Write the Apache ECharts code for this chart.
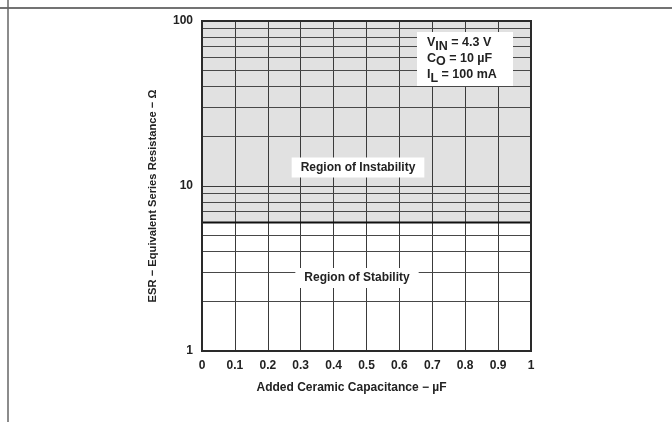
<!DOCTYPE html>
<html><head><meta charset="utf-8">
<script src="https://cdn.jsdelivr.net/npm/echarts@6/dist/echarts.min.js"></script>
<style>html,body{margin:0;padding:0;background:#fff}#c{width:672px;height:422px}</style>
</head><body><div id="c"></div>
<script>
// ---- data ----
const xTicks = [0, 0.1, 0.2, 0.3, 0.4, 0.5, 0.6, 0.7, 0.8, 0.9, 1];
const xTickLabels = ['0', '0.1', '0.2', '0.3', '0.4', '0.5', '0.6', '0.7', '0.8', '0.9', '1'];
const yTickValues = [1, 10, 100];
const yTickLabels = ['1', '10', '100'];
const boundaryCap = [0, 1];      // µF
const boundaryESR = [6, 6];      // Ω  (stability limit)
const esrTop = 100;
const minorGrid = [2, 3, 4, 5, 6, 7, 8, 9, 20, 30, 40, 50, 60, 70, 80, 90];
const conditionMain = ['V', 'C', 'I'];
const conditionSub = ['IN', 'O', 'L'];
const conditionRest = [' = 4.3 V', ' = 10 µF', ' = 100 mA'];
const xTitle = 'Added Ceramic Capacitance − µF';
const yTitle = 'ESR − Equivalent Series Resistance − Ω';
const regionLabels = ['Region of Instability', 'Region of Stability'];

// ---- chart ----
const FONT = '"Liberation Sans", Arial, Helvetica, sans-serif';
const chart = echarts.init(document.getElementById('c'), null, {renderer: 'canvas'});
const lbl = {fontFamily: FONT, fontWeight: 'bold', fontSize: 12, color: '#222'};
const grid = {color: '#3a3a3a', width: 1};

chart.setOption({
  animation: false,
  grid: {left: 202, top: 21, width: 329, height: 330, show: false},
  xAxis: {
    type: 'value', min: xTicks[0], max: xTicks[xTicks.length - 1], interval: 0.1, z: 3,
    axisLine: {show: false}, axisTick: {show: false},
    axisLabel: Object.assign({margin: 9, formatter: v => xTickLabels[Math.round(v * 10)]}, lbl),
    splitLine: {show: true, lineStyle: grid},
    name: xTitle, nameLocation: 'middle', nameGap: 31,
    nameTextStyle: Object.assign({padding: [0, 30, 0, 0]}, lbl)
  },
  yAxis: {
    type: 'log', logBase: 10, min: yTickValues[0], max: yTickValues[yTickValues.length - 1], z: 3,
    axisLine: {show: false}, axisTick: {show: false},
    axisLabel: Object.assign({margin: 9, formatter: v => yTickLabels[yTickValues.indexOf(Math.round(v))]}, lbl),
    splitLine: {show: true, lineStyle: grid},
    name: yTitle, nameLocation: 'middle', nameGap: 44,
    nameTextStyle: Object.assign({}, lbl, {fontSize: 11.2, padding: [0, 20, 0, 0]})
  },
  series: [
    {
      type: 'line', z: 6, symbol: 'none', silent: true,
      data: boundaryCap.map((c, i) => [c, boundaryESR[i]]),
      lineStyle: {color: '#111', width: 2},
      markArea: {silent: true, itemStyle: {color: '#e1e1e1'},
        data: [[{yAxis: boundaryESR[0]}, {yAxis: esrTop}]]}
    },
    {
      type: 'line', data: [], silent: true,
      markLine: {symbol: 'none', silent: true, label: {show: false}, z: 3,
        lineStyle: {color: '#484848', width: 1, type: 'solid'},
        data: minorGrid.map(v => ({yAxis: v}))}
    }
  ]
});

// frame & annotations
const p0 = chart.convertToPixel({gridIndex: 0}, [xTicks[0], esrTop]);
const p1 = chart.convertToPixel({gridIndex: 0}, [xTicks[xTicks.length - 1], yTickValues[0]]);
const ctx = document.createElement('canvas').getContext('2d');
const tf = 'bold 12.5px ' + FONT;
ctx.font = tf;
const legendEls = [];
const lx = 427, ly = [42.8, 58.3, 74.7];
for (let i = 0; i < 3; i++) {
  let x = lx;
  legendEls.push({type: 'text', z: 20, style: {text: conditionMain[i], x: x, y: ly[i], font: tf, fill: '#222', verticalAlign: 'middle'}});
  x += ctx.measureText(conditionMain[i]).width;
  legendEls.push({type: 'text', z: 20, style: {text: conditionSub[i], x: x, y: ly[i] + 3.5, font: tf, fill: '#222', verticalAlign: 'middle'}});
  x += ctx.measureText(conditionSub[i]).width;
  legendEls.push({type: 'text', z: 20, style: {text: conditionRest[i], x: x, y: ly[i], font: tf, fill: '#222', verticalAlign: 'middle'}});
}
chart.setOption({
  graphic: [
    {type: 'line', z: 20, shape: {x1: 0, y1: 8, x2: 672, y2: 8}, style: {stroke: '#444', lineWidth: 1.5}},
    {type: 'line', z: 20, shape: {x1: 8, y1: 0, x2: 8, y2: 422}, style: {stroke: '#666', lineWidth: 1.5}},
    {type: 'rect', z: 15, shape: {x: p0[0], y: p0[1], width: p1[0] - p0[0], height: p1[1] - p0[1]},
      style: {fill: null, stroke: '#2a2a2a', lineWidth: 2}},
    {type: 'rect', z: 18, shape: {x: 417, y: 32, width: 96, height: 54}, style: {fill: '#fff'}},
    {type: 'text', z: 18, style: {text: regionLabels[0], x: 358, y: 167.5, align: 'center', verticalAlign: 'middle',
      font: 'bold 12px ' + FONT, fill: '#222', backgroundColor: '#fff', padding: [4, 9]}},
    {type: 'text', z: 18, style: {text: regionLabels[1], x: 357, y: 278, align: 'center', verticalAlign: 'middle',
      font: 'bold 12px ' + FONT, fill: '#222', backgroundColor: '#fff', padding: [4, 9]}}
  ].concat(legendEls)
});
</script></body></html>
